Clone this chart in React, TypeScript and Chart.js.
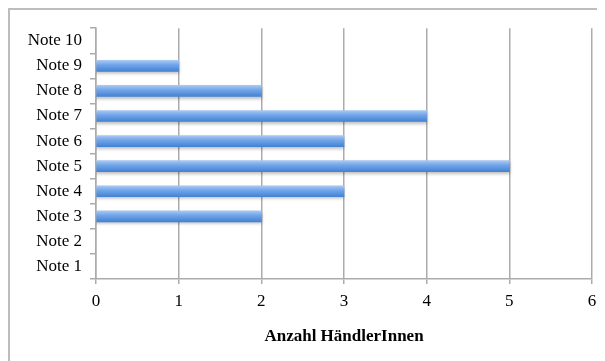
import React, { useEffect, useRef } from "react";
import { Chart, registerables } from "chart.js";

Chart.register(...registerables);

const categories = ["Note 1", "Note 2", "Note 3", "Note 4", "Note 5", "Note 6", "Note 7", "Note 8", "Note 9", "Note 10"];
const counts = [0, 0, 2, 3, 5, 3, 4, 2, 1, 0];
const xTicks = [0, 1, 2, 3, 4, 5, 6];
const xTitle = "Anzahl HändlerInnen";

const FONT = "'Liberation Serif', 'Times New Roman', serif";
const GRID = "#ababab";

const shadowPlugin = {
  id: "barShadow",
  beforeDatasetsDraw(chart: any) {
    const ctx = chart.ctx;
    ctx.save();
    ctx.shadowColor = "rgba(0,0,0,0.25)";
    ctx.shadowBlur = 3;
    ctx.shadowOffsetY = 2;
  },
  afterDatasetsDraw(chart: any) {
    chart.ctx.restore();
  },
};

export default function App() {
  const ref = useRef<HTMLCanvasElement | null>(null);
  useEffect(() => {
    if (!ref.current) return;
    const chart = new Chart(ref.current, {
      type: "bar",
      data: {
        labels: categories,
        datasets: [
          {
            data: counts,
            barThickness: 11,
            borderWidth: 0,
            backgroundColor: (c: any) => {
              const ch = c.chart;
              if (c.raw === 0) return "rgba(0,0,0,0)";
              const ys = ch.scales && ch.scales.y;
              if (!ys || c.dataIndex === undefined) return "#6aa0e8";
              const y = ys.getPixelForValue(c.dataIndex);
              if (!isFinite(y)) return "#6aa0e8";
              const g = ch.ctx.createLinearGradient(0, y - 5.5, 0, y + 5.5);
              g.addColorStop(0, "#a9c9f2");
              g.addColorStop(0.4, "#72a6ea");
              g.addColorStop(1, "#4482d4");
              return g;
            },
          },
        ],
      },
      options: {
        indexAxis: "y",
        animation: false,
        responsive: false,
        maintainAspectRatio: false,
        layout: { padding: { top: 17, right: 13, left: 0, bottom: 0 } },
        plugins: { legend: { display: false }, tooltip: { enabled: false } },
        scales: {
          x: {
            min: 0,
            max: 6,
            afterBuildTicks: (s: any) => {
              s.ticks = xTicks.map((v) => ({ value: v }));
            },
            afterFit: (s: any) => {
              s.height = 82;
            },
            grid: { color: GRID, lineWidth: 1.5, tickLength: 5, drawTicks: true },
            border: { color: GRID, width: 1.5 },
            ticks: { color: "#000", font: { family: FONT, size: 17 }, padding: 7 },
            title: {
              display: true,
              text: xTitle,
              color: "#000",
              font: { family: FONT, size: 17, weight: "bold" },
              padding: { top: 4, bottom: 14 },
            },
          },
          y: {
            reverse: true,
            afterFit: (s: any) => {
              s.width = 86;
            },
            grid: { drawOnChartArea: false, drawTicks: true, tickLength: 6, color: GRID, lineWidth: 1.5, offset: true },
            border: { color: GRID, width: 1.5 },
            ticks: { color: "#000", font: { family: FONT, size: 17 }, padding: 8 },
          },
        },
      },
      plugins: [shadowPlugin],
    } as any);
    chart.update();
    return () => chart.destroy();
  }, []);
  return (
    <div style={{ borderLeft: "2px solid #bdbdbd", borderTop: "2px solid #bdbdbd", width: 595, height: 351 }}>
      <canvas ref={ref} width={595} height={351} style={{ display: "block" }} />
    </div>
  );
}
